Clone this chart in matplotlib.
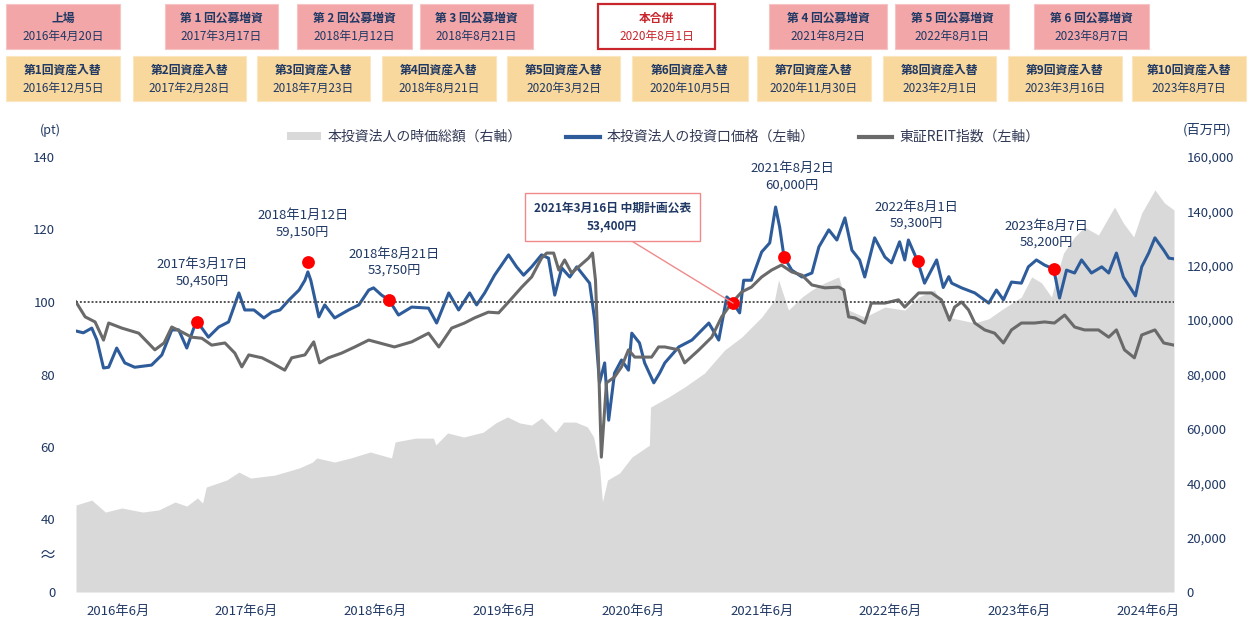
import numpy as np
import pandas as pd
import matplotlib
matplotlib.use("Agg")
from matplotlib import pyplot as plt
from matplotlib.patches import Rectangle, Patch
from matplotlib.lines import Line2D
import matplotlib.dates as mdates
from matplotlib.ticker import FuncFormatter

plt.rcParams['font.family'] = ['Noto Sans CJK JP', 'DejaVu Sans']

# 本投資法人の投資口価格（左軸, 上場日=100）
price_dates = ['2016-04-20', '2016-05-10', '2016-06-02', '2016-06-16', '2016-07-04', '2016-07-18',
               '2016-08-09', '2016-08-31', '2016-09-27', '2016-11-12', '2016-12-10', '2017-01-06',
               '2017-01-25', '2017-02-16', '2017-03-07', '2017-03-17', '2017-04-16', '2017-05-14',
               '2017-06-10', '2017-07-08', '2017-07-24', '2017-08-18', '2017-09-14', '2017-10-06',
               '2017-10-28', '2017-11-22', '2017-12-19', '2018-01-04', '2018-01-12', '2018-01-20',
               '2018-02-11', '2018-02-27', '2018-03-26', '2018-05-03', '2018-05-31', '2018-06-27',
               '2018-07-10', '2018-08-01', '2018-08-21', '2018-09-16', '2018-10-22', '2018-12-07',
               '2018-12-29', '2019-01-31', '2019-02-27', '2019-03-29', '2019-04-17', '2019-05-09',
               '2019-06-05', '2019-07-13', '2019-08-04', '2019-08-23', '2019-09-14', '2019-10-11',
               '2019-10-30', '2019-11-16', '2019-12-05', '2019-12-27', '2020-01-15', '2020-02-06',
               '2020-02-19', '2020-03-04', '2020-03-17', '2020-03-31', '2020-04-11', '2020-04-27',
               '2020-05-16', '2020-06-04', '2020-06-13', '2020-07-04', '2020-07-18', '2020-08-12',
               '2020-08-28', '2020-09-11', '2020-10-19', '2020-11-24', '2021-01-09', '2021-02-05',
               '2021-02-27', '2021-03-16', '2021-04-03', '2021-04-14', '2021-05-05', '2021-06-02',
               '2021-06-24', '2021-07-10', '2021-07-21', '2021-08-02', '2021-08-23', '2021-09-20',
               '2021-10-17', '2021-11-05', '2021-12-02', '2021-12-24', '2022-01-15', '2022-02-03',
               '2022-02-24', '2022-03-10', '2022-04-06', '2022-05-04', '2022-05-22', '2022-06-13',
               '2022-06-27', '2022-07-07', '2022-08-01', '2022-08-20', '2022-09-22', '2022-10-10',
               '2022-10-25', '2022-11-02', '2022-11-29', '2023-01-04', '2023-02-11', '2023-03-04',
               '2023-03-23', '2023-04-14', '2023-05-11', '2023-05-30', '2023-06-21', '2023-07-13',
               '2023-08-07', '2023-08-23', '2023-09-11', '2023-10-03', '2023-10-22', '2023-11-18',
               '2023-12-16', '2024-01-04', '2024-01-25', '2024-02-13', '2024-02-27', '2024-03-17',
               '2024-04-03', '2024-04-22', '2024-05-09', '2024-06-02', '2024-06-16', '2024-06-30']
price_idx = [92.0, 91.5, 92.8, 89.5, 81.8, 82.0,
             87.3, 83.2, 82.0, 82.6, 85.4, 92.3,
             92.3, 87.3, 92.8, 94.5, 90.3, 93.1,
             94.5, 102.5, 97.8, 97.8, 95.6, 97.2,
             97.8, 100.6, 103.3, 106.0, 108.3, 106.0,
             95.9, 99.2, 95.6, 97.8, 99.2, 103.3,
             103.9, 101.9, 100.6, 96.4, 98.6, 98.3,
             94.2, 102.5, 97.8, 102.5, 99.2, 102.5,
             107.4, 113.0, 109.7, 107.4, 109.7, 113.0,
             112.1, 101.9, 109.4, 106.9, 109.7, 106.9,
             105.2, 95.0, 77.7, 83.2, 67.4, 80.4,
             84.0, 81.2, 91.4, 88.7, 83.2, 77.7,
             80.4, 83.2, 87.6, 89.5, 94.2, 89.5,
             101.4, 99.7, 97.0, 106.0, 106.0, 113.8,
             116.3, 126.2, 120.7, 112.4, 108.8, 106.9,
             108.0, 115.2, 119.9, 117.1, 123.2, 114.3,
             111.6, 106.9, 117.7, 112.4, 110.8, 116.6,
             111.6, 117.1, 111.3, 105.2, 111.6, 104.0,
             107.0, 105.2, 103.9, 102.5, 99.7, 103.3,
             100.6, 105.5, 105.2, 109.7, 111.6, 110.2,
             109.1, 101.1, 108.8, 108.0, 111.6, 108.0,
             109.7, 108.0, 113.5, 106.9, 104.7, 101.7,
             109.7, 113.5, 117.7, 114.3, 112.1, 111.9]

# 東証REIT指数（左軸, 上場日=100）
reit_dates = ['2016-04-20', '2016-05-15', '2016-06-11', '2016-07-04', '2016-07-18', '2016-08-23',
              '2016-10-08', '2016-11-21', '2016-12-16', '2017-01-06', '2017-02-03', '2017-03-01',
              '2017-03-29', '2017-04-25', '2017-05-31', '2017-06-27', '2017-07-16', '2017-08-04',
              '2017-09-09', '2017-10-06', '2017-11-10', '2017-11-29', '2018-01-04', '2018-01-28',
              '2018-02-13', '2018-03-09', '2018-04-14', '2018-05-20', '2018-06-27', '2018-09-05',
              '2018-10-22', '2018-12-07', '2019-01-04', '2019-02-08', '2019-03-15', '2019-04-11',
              '2019-05-19', '2019-06-16', '2019-07-13', '2019-08-18', '2019-09-14', '2019-10-11',
              '2019-10-25', '2019-11-13', '2019-11-27', '2019-12-13', '2020-01-01', '2020-01-20',
              '2020-02-16', '2020-02-27', '2020-03-06', '2020-03-14', '2020-03-22', '2020-04-05',
              '2020-04-27', '2020-05-16', '2020-06-04', '2020-06-21', '2020-07-18', '2020-08-06',
              '2020-08-25', '2020-09-11', '2020-10-19', '2020-11-04', '2020-12-13', '2021-01-17',
              '2021-02-13', '2021-03-12', '2021-04-09', '2021-05-05', '2021-06-02', '2021-06-29',
              '2021-07-26', '2021-08-23', '2021-09-20', '2021-10-17', '2021-11-21', '2021-12-29',
              '2022-01-12', '2022-01-25', '2022-02-11', '2022-03-10', '2022-03-28', '2022-05-04',
              '2022-06-10', '2022-06-27', '2022-08-04', '2022-09-08', '2022-10-05', '2022-10-27',
              '2022-11-10', '2022-11-29', '2022-12-18', '2023-01-04', '2023-01-31', '2023-02-27',
              '2023-03-23', '2023-04-14', '2023-05-11', '2023-06-16', '2023-07-13', '2023-08-09',
              '2023-09-06', '2023-10-03', '2023-10-30', '2023-12-07', '2024-01-04', '2024-01-25',
              '2024-02-16', '2024-03-14', '2024-04-03', '2024-05-09', '2024-06-02', '2024-06-30']
reit_idx = [100.0, 95.9, 94.5, 89.5, 94.2, 92.8,
            91.4, 86.8, 88.7, 93.1, 91.7, 90.3,
            90.0, 88.1, 88.7, 85.9, 82.1, 85.4,
            84.6, 83.2, 81.2, 84.6, 85.4, 89.0,
            83.2, 84.6, 85.9, 87.6, 89.5, 87.6,
            89.0, 91.4, 87.6, 92.8, 94.2, 95.6,
            97.2, 97.0, 100.0, 104.1, 106.9, 112.1,
            113.5, 113.5, 108.8, 111.6, 108.0, 109.7,
            112.1, 113.5, 106.0, 84.8, 57.2, 77.7,
            79.3, 82.1, 86.8, 84.8, 84.8, 84.8,
            87.6, 87.6, 86.8, 83.2, 86.8, 90.3,
            95.9, 99.7, 102.8, 104.1, 106.9, 108.8,
            110.2, 108.3, 107.4, 104.7, 103.9, 104.1,
            103.3, 95.9, 95.6, 94.2, 99.7, 99.7,
            100.6, 98.6, 102.5, 102.5, 100.6, 95.0,
            98.6, 100.0, 97.8, 94.2, 92.3, 91.4,
            88.7, 92.3, 94.2, 94.2, 94.5, 94.2,
            96.4, 93.1, 92.3, 92.3, 90.3, 92.3,
            86.8, 84.6, 90.9, 92.3, 88.7, 88.1]

# 本投資法人の時価総額（右軸, 百万円）
cap_dates = ['2016-04-20', '2016-06-02', '2016-07-09', '2016-08-23', '2016-10-19', '2016-12-02',
             '2017-01-15', '2017-02-16', '2017-03-17', '2017-03-31', '2017-04-10', '2017-06-05',
             '2017-07-08', '2017-08-09', '2017-10-14', '2017-12-19', '2018-01-25', '2018-02-05',
             '2018-03-26', '2018-05-09', '2018-07-01', '2018-08-28', '2018-09-07', '2018-11-02',
             '2018-12-20', '2018-12-27', '2019-01-28', '2019-03-13', '2019-05-05', '2019-06-08',
             '2019-07-10', '2019-08-12', '2019-09-14', '2019-10-11', '2019-11-18', '2019-12-10',
             '2020-01-12', '2020-02-13', '2020-03-01', '2020-03-17', '2020-03-25', '2020-04-08',
             '2020-05-11', '2020-06-13', '2020-07-31', '2020-08-03', '2020-09-21', '2020-11-04',
             '2020-12-28', '2021-02-21', '2021-04-09', '2021-06-02', '2021-07-07', '2021-07-18',
             '2021-08-14', '2021-09-20', '2021-10-17', '2021-11-21', '2021-12-29', '2022-01-25',
             '2022-03-10', '2022-05-04', '2022-06-27', '2022-08-04', '2022-09-16', '2022-10-24',
             '2022-11-29', '2023-01-04', '2023-02-11', '2023-03-17', '2023-05-11', '2023-06-08',
             '2023-07-05', '2023-08-01', '2023-08-20', '2023-09-03', '2023-10-03', '2023-10-30',
             '2023-12-07', '2024-01-04', '2024-01-20', '2024-02-13', '2024-03-12', '2024-04-03',
             '2024-05-09', '2024-06-04', '2024-06-30']
cap_mn = [32000, 33800, 29400, 30900, 29400, 30200,
          33100, 31600, 34600, 32700, 38600, 41200,
          44100, 41900, 43000, 45600, 47800, 49300,
          47800, 49300, 51500, 49300, 55200, 56600,
          56600, 54100, 58500, 57000, 58800, 62200,
          64400, 62200, 61400, 64000, 58800, 62500,
          62500, 60700, 57000, 46000, 33100, 41200,
          43800, 49600, 54000, 68000, 71700, 75400,
          80500, 89000, 93800, 101100, 107400, 114800,
          103700, 108500, 111100, 113700, 115900, 103700,
          101100, 104800, 103700, 108500, 111100, 101100,
          100000, 99000, 100500, 103700, 108500, 115900,
          113700, 108500, 118400, 124700, 130600, 134200,
          131300, 137900, 141600, 135700, 130600, 139400,
          147900, 143100, 140500]

# 公募増資・中期計画公表の日の投資口価格
event_dates = ['2017-03-17', '2018-01-12', '2018-08-21', '2021-03-16',
               '2021-08-02', '2022-08-01', '2023-08-07']
event_idx = [94.5, 111.0, 100.6, 99.7, 112.4, 111.3, 109.1]
event_dates_jp = ['2017年3月17日', '2018年1月12日', '2018年8月21日', '2021年3月16日',
                  '2021年8月2日', '2022年8月1日', '2023年8月7日']
event_price = ['50,450円', '59,150円', '53,750円', '53,400円', '60,000円', '59,300円', '58,200円']

# 上段: 上場・公募増資・合併
top_titles = ['上場', '第 1 回公募増資', '第 2 回公募増資', '第 3 回公募増資', '本合併',
              '第 4 回公募増資', '第 5 回公募増資', '第 6 回公募増資']
top_dates = ['2016年4月20日', '2017年3月17日', '2018年1月12日', '2018年8月21日', '2020年8月1日',
             '2021年8月2日', '2022年8月1日', '2023年8月7日']
# 下段: 資産入替
swap_titles = ['第1回資産入替', '第2回資産入替', '第3回資産入替', '第4回資産入替', '第5回資産入替',
               '第6回資産入替', '第7回資産入替', '第8回資産入替', '第9回資産入替', '第10回資産入替']
swap_dates = ['2016年12月5日', '2017年2月28日', '2018年7月23日', '2018年8月21日', '2020年3月2日',
              '2020年10月5日', '2020年11月30日', '2023年2月1日', '2023年3月16日', '2023年8月7日']

x_labels = [f'{y}年6月' for y in range(2016, 2025)]

NAVY = '#1F3864'
BLUE = '#2E5C9A'
GREY = '#6A6A6A'
AREA = '#D9D9D9'
PINK = '#F3A6A8'
TAN = '#F8D89C'
RED = '#C8252C'

W, H = 1252, 623


def fx(px):
    return px / W


def fy(py):
    return 1 - py / H


fig = plt.figure(figsize=(W / 100, H / 100), dpi=100)
ax = fig.add_axes([fx(76), fy(592), fx(1174) - fx(76), fy(157) - fy(592)])
ax2 = ax.twinx()
ax.set_zorder(ax2.get_zorder() + 1)
ax.patch.set_visible(False)

cap_d = pd.to_datetime(cap_dates)
price_d = pd.to_datetime(price_dates)
reit_d = pd.to_datetime(reit_dates)
ev_d = pd.to_datetime(event_dates)

ax2.fill_between(cap_d, cap_mn, color=AREA, lw=0)
ax.plot(price_d, price_idx, color=BLUE, lw=2.2, zorder=2)
ax.plot(reit_d, reit_idx, color=GREY, lw=2.2, zorder=3)
ax.axhline(100, color='#555555', lw=1.4, ls=(0, (1, 1)), zorder=4)
ax.scatter(ev_d, event_idx, s=85, color='#FF0000', zorder=6, linewidths=0)

# axes
start, end = pd.Timestamp('2016-04-20'), pd.Timestamp('2024-06-30')
ax.set_xlim(start, end)
ax.set_ylim(20, 140)
ax2.set_ylim(0, 160000)
ax.set_yticks([20, 40, 60, 80, 100, 120, 140])
ax.set_yticklabels(['0', '40', '60', '80', '100', '120', '140'])
ax2.set_yticks(np.arange(0, 160001, 20000))
ax2.yaxis.set_major_formatter(FuncFormatter(lambda v, p: f'{int(v):,}'))
tick_pos = np.linspace(mdates.date2num(pd.Timestamp('2016-08-12')),
                       mdates.date2num(pd.Timestamp('2024-04-20')), len(x_labels))
ax.set_xticks(tick_pos)
ax.set_xticklabels(x_labels)

for a in (ax, ax2):
    for s in a.spines.values():
        s.set_visible(False)
ax.tick_params(axis='y', length=0, pad=15, labelsize=9.5, labelcolor=NAVY)
ax.tick_params(axis='x', length=0, pad=9, labelsize=9.5, labelcolor=NAVY)
ax2.tick_params(axis='y', length=0, pad=9, labelsize=9.5, labelcolor=NAVY)

# 波線（軸の省略）
ax.text(-0.026, 30, '≈', transform=ax.get_yaxis_transform(), ha='center', va='center',
        fontsize=13, color=NAVY)

fig.text(fx(50), fy(130), '(pt)', ha='center', va='center', fontsize=9, color=NAVY)
fig.text(fx(1207), fy(130), '(百万円)', ha='center', va='center', fontsize=9.5, color=NAVY)

# legend
handles = [Patch(facecolor=AREA, edgecolor='none'),
           Line2D([0], [0], color=BLUE, lw=3),
           Line2D([0], [0], color=GREY, lw=3)]
labels = ['本投資法人の時価総額（右軸）', '本投資法人の投資口価格（左軸）', '東証REIT指数（左軸）']
leg = ax.legend(handles, labels, loc='center', bbox_to_anchor=(0.535, 1.046), ncol=3,
                frameon=False, fontsize=10, handlelength=2.4, handleheight=0.5,
                columnspacing=3.2, handletextpad=0.5)
for t in leg.get_texts():
    t.set_color('#333A55')

# annotations for dots
label_offsets = [(3.6, 35.6), (-3.6, 27.7), (3.6, 27.0), None, (5.8, 57.6), (-0.7, 33.0), (-5.0, 25.0)]
for d, v, dj, pr, off in zip(ev_d, event_idx, event_dates_jp, event_price, label_offsets):
    if off is None:
        continue
    ax.annotate(f'{dj}\n{pr}', xy=(d, v), xytext=off, textcoords='offset points',
                ha='center', va='center', fontsize=9.5, color=NAVY, linespacing=1.35, zorder=7)

# 中期計画公表の吹き出し
ax.annotate(f'{event_dates_jp[3]} 中期計画公表\n{event_price[3]}', xy=(ev_d[3], event_idx[3]),
            xytext=(-87, 62), textcoords='offset points', ha='center', va='center',
            fontsize=8.5, fontweight='bold', color=NAVY, linespacing=1.4, zorder=7,
            bbox=dict(boxstyle='square,pad=0.75', fc='white', ec='#F08A8A', lw=1.0),
            arrowprops=dict(arrowstyle='-', color='#F08A8A', lw=1.0, shrinkA=0, shrinkB=0,
                            relpos=(0.53, 0.0)))

# 上段・下段のボックス
top_x = [(6, 120), (165, 278), (297, 412), (420, 533), (598, 715), (769, 887), (895, 1009), (1034, 1149)]
swap_x = [(6, 120), (133, 246), (257, 370), (382, 496), (507, 620), (632, 748), (757, 871),
          (883, 996), (1008, 1122), (1132, 1246)]


def draw_box(x0, x1, y0, y1, title, date, fc, ec, tc, lw):
    fig.patches.append(Rectangle((fx(x0), fy(y1)), fx(x1) - fx(x0), fy(y0) - fy(y1),
                                 transform=fig.transFigure, facecolor=fc, edgecolor=ec, lw=lw))
    fig.text(fx((x0 + x1) / 2), fy(y0 + (y1 - y0) * 0.32), title, ha='center', va='center',
             fontsize=8.5, fontweight='bold', color=tc)
    fig.text(fx((x0 + x1) / 2), fy(y0 + (y1 - y0) * 0.73), date, ha='center', va='center',
             fontsize=8.5, color=tc)


for (x0, x1), t, d in zip(top_x, top_titles, top_dates):
    if t == '本合併':
        draw_box(x0, x1, 4, 49, t, d, 'white', RED, RED, 1.6)
    else:
        draw_box(x0, x1, 4, 49, t, d, PINK, '#F7C4C5', NAVY, 0.8)

for (x0, x1), t, d in zip(swap_x, swap_titles, swap_dates):
    draw_box(x0, x1, 56, 101, t, d, TAN, '#FAE6C0', NAVY, 0.8)

fig.savefig('out.png', dpi=100)
